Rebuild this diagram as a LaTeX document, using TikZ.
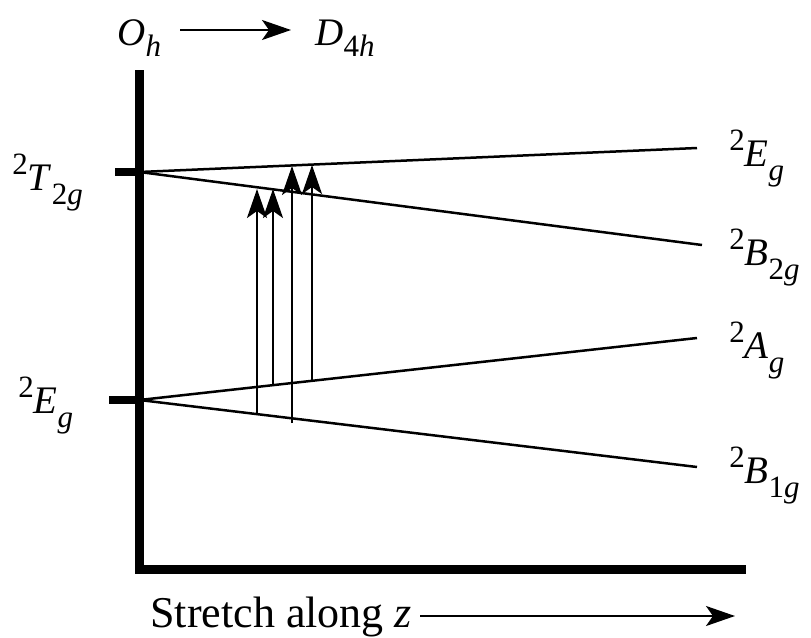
\documentclass[tikz,border=0pt]{standalone}
\usepackage{fontspec}
\setmainfont{Liberation Serif}
\usetikzlibrary{arrows.meta}
\newcommand{\idxfont}{\fontsize{15.5}{16}\selectfont}
\newcommand{\lvl}[3]{\raisebox{0.4em}{\idxfont #1}\textit{#2}\raisebox{-0.36em}{\idxfont #3}}
\tikzset{
  axis/.style={line width=4.5pt},
  tick/.style={line width=4pt},
  level/.style={line width=1.25pt},
  trans/.style={line width=1pt,-{Stealth[length=14.5pt,width=10pt,inset=3.5pt]}},
  lbl/.style={inner sep=0pt,anchor=base west,font=\fontsize{19.5}{22}\selectfont},
}
\begin{document}
\begin{tikzpicture}[x=0.5pt,y=-0.5pt]
\useasboundingbox (0,0) rectangle (811,638);
% axes
\draw[axis] (139.5,70) -- (139.5,569) -- (746,569);
\coordinate (T2g) at (139.5,172);
\coordinate (Eg) at (139.5,400);
\draw[tick] (115,172) -- (T2g);
\draw[tick] (109,400) -- (Eg);
\node[lbl] (lT2g) at (12,190) {\lvl{2}{T}{2\textit{g}}};
\node[lbl] (lEg) at (18,413) {\lvl{2}{E}{\textit{g}}};
% split levels
\coordinate (EgUp) at (697,148);
\coordinate (B2g) at (702,245);
\coordinate (Ag) at (697,338);
\coordinate (B1g) at (697,467);
\draw[level] (T2g) -- (EgUp);
\draw[level] (T2g) -- (B2g);
\draw[level] (Eg) -- (Ag);
\draw[level] (Eg) -- (B1g);
\node[lbl] (lEgUp) at (729,166) {\lvl{2}{E}{\textit{g}}};
\node[lbl] (lB2g) at (729,265) {\lvl{2}{B}{2\textit{g}}};
\node[lbl] (lAg) at (729,358) {\lvl{2}{A}{\textit{g}}};
\node[lbl] (lB1g) at (729,483) {\lvl{2}{B}{1\textit{g}}};
% transitions
\foreach \i/\x/\ya/\yb in {1/257/414/189, 2/273/384/189, 3/292/423/166, 4/312/380/165}{
  \coordinate (lo\i) at (\x,\ya);
  \coordinate (hi\i) at (\x,\yb);
  \draw[trans] (lo\i) -- (hi\i);
}
% symmetry lowering
\node[lbl] (Oh) at (117,45) {\textit{O}\raisebox{-0.3em}{\idxfont\textit{h}}};
\node[lbl] (D4h) at (315,45) {\textit{D}\raisebox{-0.3em}{\idxfont 4\textit{h}}};
\coordinate (ohEnd) at (180,30);
\coordinate (dEnd) at (291,30);
\draw[trans] (ohEnd) -- (dEnd);
% stretch
\node[lbl,font=\fontsize{22}{26}\selectfont] (str) at (150,627) {Stretch along \textit{z}};
\coordinate (sBeg) at (420,616);
\coordinate (sEnd) at (735,616);
\draw[trans] (sBeg) -- (sEnd);
\end{tikzpicture}
\end{document}
